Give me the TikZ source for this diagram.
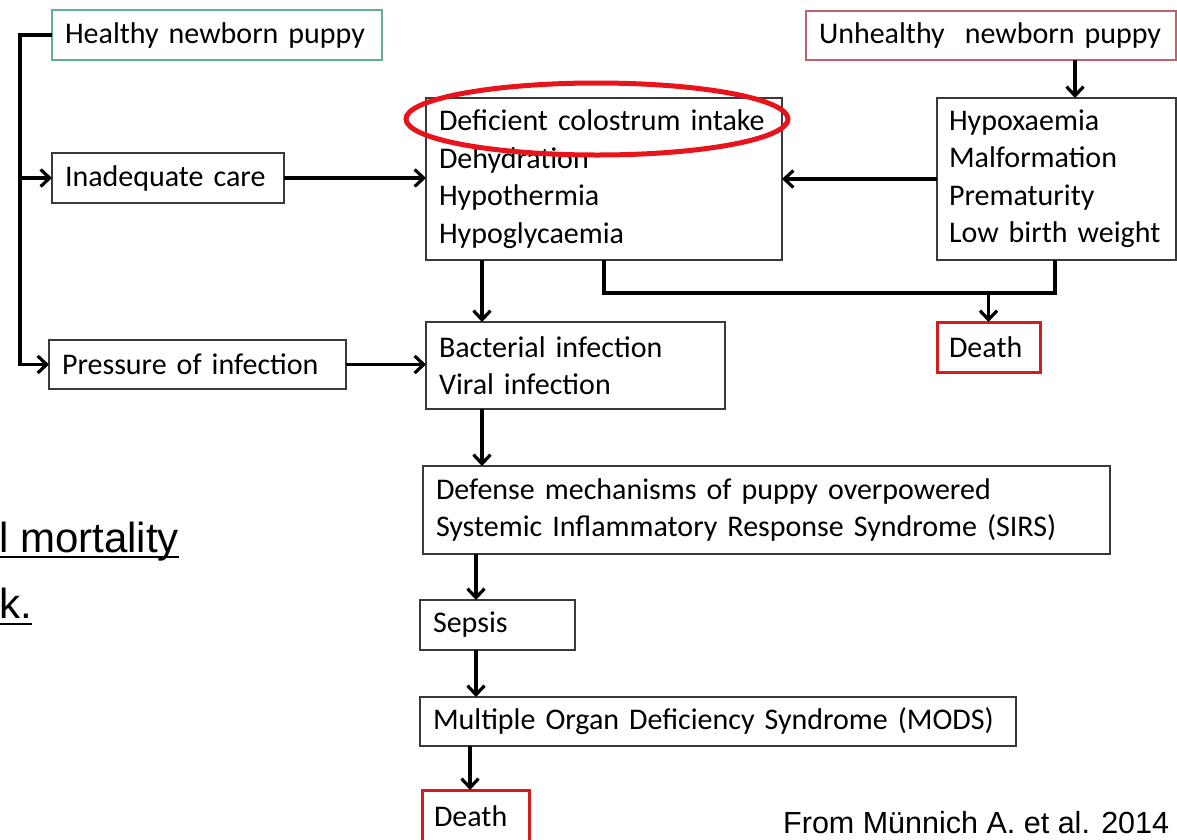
\documentclass[tikz,border=0pt]{standalone}
\usepackage{fontspec}
\setmainfont{Carlito}
\newfontfamily\arialfont{Liberation Sans}
\usetikzlibrary{arrows.meta,calc,shapes.geometric}
\definecolor{boxgray}{HTML}{3A3A3A}
\definecolor{healthgreen}{HTML}{62B08E}
\definecolor{unhred}{HTML}{C0626C}
\definecolor{deathred}{HTML}{D01E1E}
\definecolor{hlred}{HTML}{E8141B}
\newcommand\bodyfont{\fontsize{30}{37.5}\selectfont}
\begin{document}
\begin{tikzpicture}[x=1pt,y=-1pt,
  box/.style={draw=boxgray, line width=1.4pt, anchor=north west, inner xsep=13pt, inner ysep=0pt, align=left, font=\bodyfont, outer sep=0pt},
  deathbox/.style={box, draw=deathred, line width=3pt, inner xsep=12pt},
  conn/.style={line width=3.8pt, draw=black},
  arr/.style={conn, -{Straight Barb[length=9pt,width=17pt,line width=3.2pt]}},
  slidetext/.style={font=\arialfont\fontsize{42}{50}\selectfont, inner sep=0pt, anchor=base west},
  uline/.style={line width=2pt}
]
\useasboundingbox[fill=white] (0,0) rectangle (1177,839);

% boxes
\node[box, draw=healthgreen, text width=304pt, minimum height=50pt] (healthy) at (52,10) {\mbox{Healthy newborn puppy}};
\node[box, draw=unhred, text width=344pt, minimum height=49pt] (unh) at (806,11) {\mbox{Unhealthy~ newborn puppy}};
\node[box, text width=206pt, minimum height=50pt] (inad) at (52,153) {\mbox{Inadequate care}};
\node[box, text width=271pt, minimum height=49pt] (press) at (49,340) {\mbox{Pressure of infection}};
\node[box, text width=330pt, minimum height=162pt] (mid) at (426,98) {\mbox{Deficient colostrum intake}\\Dehydration\\Hypothermia\\Hypoglycaemia};
\node[box, inner xsep=12pt, text width=215pt, minimum height=162pt] (right) at (937,98) {Hypoxaemia\\Malformation\\Prematurity\\\mbox{Low birth weight}};
\node[deathbox, text width=79pt, minimum height=50pt] (death1) at (937,322) {Death};
\node[box, text width=273pt, minimum height=87pt] (bact) at (426,322) {\mbox{Bacterial infection}\\\mbox{Viral infection}};
\node[box, text width=661pt, minimum height=88pt] (sirs) at (423,466) {\mbox{Defense mechanisms of puppy overpowered}\\\mbox{Systemic Inflammatory Response Syndrome (SIRS)}};
\node[box, text width=129pt, minimum height=50pt] (sepsis) at (420,600) {Sepsis};
\node[box, text width=570pt, minimum height=49pt] (mods) at (420,697) {\mbox{Multiple Organ Deficiency Syndrome (MODS)}};
\node[deathbox, text width=83pt, minimum height=52pt] (death2) at (422,790) {Death};

% highlight ellipse
\node[draw=hlred, line width=5pt, ellipse, minimum width=382pt, minimum height=72pt, inner sep=0pt] (hl) at (597,119) {};

% connectors
\draw[arr] (healthy.west) -- ++(-32,0) |- (inad.west);
\draw[arr] (healthy.west) -- ++(-32,0) |- (press.west);
\draw[arr] (inad.east) -- (inad.east -| mid.west);
\draw[arr] (right.west) -- (right.west -| mid.east);
\draw[arr] ([xshift=-101pt]unh.south east) -- ([xshift=-101pt]right.north east);
\draw[arr] ([xshift=56pt]mid.south west) -- ([xshift=56pt]bact.north west);
\draw[conn] ([xshift=178pt]mid.south west) -- ++(0,33) -| ([xshift=118pt]right.south west);
\coordinate (junc) at ($(death1.north)+(0,-29)$);
\draw[arr] (junc) -- (death1.north);
\draw[arr] (press.east) -- (press.east -| bact.west);
\draw[arr] ([xshift=56pt]bact.south west) -- ([xshift=56pt]bact.south west |- sirs.north);
\draw[arr] ([xshift=56pt]sepsis.north west |- sirs.south) -- ([xshift=56pt]sepsis.north west);
\draw[arr] ([xshift=56pt]sepsis.south west) -- ([xshift=56pt]sepsis.south west |- mods.north);
\draw[arr] ([xshift=48pt]death2.north west |- mods.south) -- ([xshift=48pt]death2.north west);

% slide texts
\node[slidetext] (mort) at (-1,552) {l mortality};
\draw[uline] ([yshift=-5pt]mort.base west) -- ([yshift=-5pt]mort.base east);
\node[slidetext] (kdot) at (-1,618) {k.};
\draw[uline] ([yshift=-6pt]kdot.base west) -- ([yshift=-6pt]kdot.base east);
\node[font=\arialfont\fontsize{30.5}{36}\selectfont, inner sep=0pt, anchor=base west] (src) at (783,833) {From Münnich A. et al. 2014};
\end{tikzpicture}
\end{document}
